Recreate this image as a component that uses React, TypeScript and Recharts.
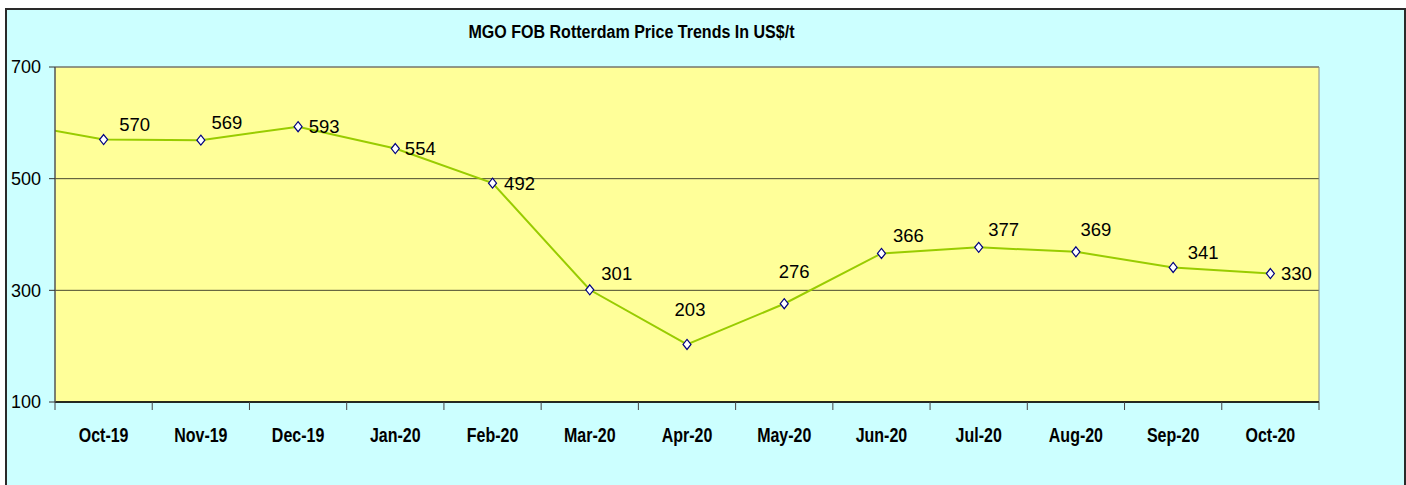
import React from "react";
import { LineChart, Line, XAxis, YAxis, CartesianGrid, ReferenceLine, LabelList } from "recharts";

// months shown on the axis and their prices (US$/t)
const months = [
  "Oct-19", "Nov-19", "Dec-19", "Jan-20", "Feb-20", "Mar-20", "Apr-20",
  "May-20", "Jun-20", "Jul-20", "Aug-20", "Sep-20", "Oct-20",
];
const prices = [570, 569, 593, 554, 492, 301, 203, 276, 366, 377, 369, 341, 330];

// the series starts one month earlier, off the left edge of the plot
const priorMonth = "Sep-19";
const priorPrice = 602;

const yTicks = [100, 300, 500, 700];

// where each value label sits relative to its point [dx, dy]
const labelOffsets = [
  [31, -15], [26, -18], [26, 0], [25, 0], [27, 0], [27, -16], [3, -35],
  [10, -32], [27, -18], [25, -18], [20, -22], [30, -15], [26, 0],
];

const data = [
  { pos: 0, month: priorMonth, price: priorPrice },
  ...months.map((m, i) => ({ pos: i + 1, month: m, price: prices[i] })),
];
const xTicks = [...months.map((_, i) => i + 0.5), months.length + 0.5];

const SANS = "'Liberation Sans', Arial, sans-serif";

function MonthTick(props: any) {
  const { x, y, payload, width } = props;
  const idx = Math.round(payload.value - 0.5);
  if (idx >= months.length) return null;
  const step = (width ?? 1264) / months.length;
  // narrow bold face, squeezed horizontally
  return (
    <text
      transform={`translate(${x + step / 2},${y + 30}) scale(0.82,1)`}
      textAnchor="middle"
      fontFamily={SANS}
      fontWeight="bold"
      fontSize={19.5}
      fill="#000"
    >
      {months[idx]}
    </text>
  );
}

function Diamond(props: any) {
  const { cx, cy, index } = props;
  if (index === 0 || cx == null) return <g key={`d${index}`} />;
  return (
    <polygon
      key={`d${index}`}
      points={`${cx},${cy - 5} ${cx + 4},${cy} ${cx},${cy + 5} ${cx - 4},${cy}`}
      fill="#fff"
      stroke="#000080"
      strokeWidth={1.2}
    />
  );
}

function ValueLabel(props: any) {
  const { index, value } = props;
  if (index === 0) return null;
  const vb = props.viewBox || {};
  const px = props.x ?? vb.x;
  const py = props.y ?? vb.y;
  const [dx, dy] = labelOffsets[index - 1];
  return (
    <text
      x={px + dx}
      y={py + dy}
      textAnchor="middle"
      dominantBaseline="central"
      fontFamily={SANS}
      fontSize={18.5}
      fill="#000"
    >
      {value}
    </text>
  );
}

export default function App() {
  return (
    <div style={{ position: "fixed", left: 0, top: 0, width: 1406, height: 485, background: "#fff", overflow: "hidden" }}>
      <div
        style={{
          position: "absolute",
          left: 5,
          top: 8,
          width: 1401,
          height: 500,
          boxSizing: "border-box",
          border: "2px solid #2a2a2a",
          background: "#CCFFFF",
        }}
      />
      <div
        style={{
          position: "absolute",
          left: 0,
          width: 1263,
          top: 22,
          textAlign: "center",
          fontFamily: SANS,
          fontWeight: "bold",
          fontSize: 17.5,
          color: "#000",
          transform: "scaleX(0.916)",
          transformOrigin: "631.5px 0",
        }}
      >
        MGO FOB Rotterdam Price Trends In US$/t
      </div>
      <div style={{ position: "absolute", left: 0, top: 0 }}>
        <LineChart width={1406} height={485} data={data} margin={{ top: 67, right: 87, bottom: 43, left: 0 }}>
          <CartesianGrid vertical={false} fill="#FFFF99" stroke="#4a4a30" strokeWidth={1} />
          <XAxis
            dataKey="pos"
            type="number"
            domain={[0.5, months.length + 0.5]}
            allowDataOverflow
            ticks={xTicks}
            interval={0}
            height={40}
            tick={<MonthTick />}
            tickSize={8}
            tickLine={{ stroke: "#444" }}
            axisLine={{ stroke: "#000", strokeWidth: 1.5 }}
          />
          <YAxis
            type="number"
            domain={[100, 700]}
            ticks={yTicks}
            width={55}
            tickSize={6}
            tickMargin={8}
            tick={{ fill: "#000", fontSize: 18, fontFamily: SANS }}
            tickLine={{ stroke: "#333" }}
            axisLine={{ stroke: "#555", strokeWidth: 1.5 }}
          />
          <ReferenceLine y={700} stroke="#8a8a8a" />
          <ReferenceLine x={months.length + 0.5} stroke="#8a8a8a" />
          <Line
            type="linear"
            dataKey="price"
            stroke="#99CC00"
            strokeWidth={2}
            dot={<Diamond />}
            activeDot={false}
            isAnimationActive={false}
          >
            <LabelList dataKey="price" content={<ValueLabel />} />
          </Line>
        </LineChart>
      </div>
    </div>
  );
}
